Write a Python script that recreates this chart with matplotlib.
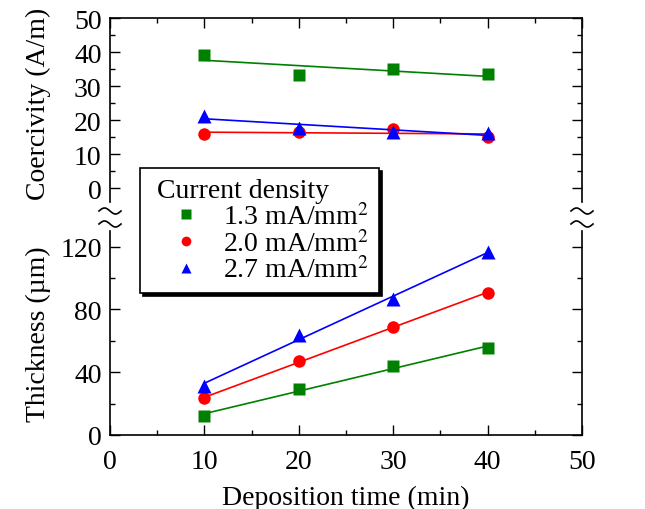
import matplotlib
matplotlib.use('Agg')
import matplotlib.pyplot as plt
import numpy as np
from matplotlib.lines import Line2D
from matplotlib.ticker import MultipleLocator

plt.rcParams['font.family'] = ['Liberation Serif', 'DejaVu Serif']
plt.rcParams['mathtext.fontset'] = 'stix'
plt.rcParams['font.size'] = 20

time = np.array([10, 20, 30, 40])
labels = ['1.3 mA/mm$^2$', '2.0 mA/mm$^2$', '2.7 mA/mm$^2$']
colors = ['green', 'red', 'blue']
markers = ['s', 'o', '^']
sizes = [8.5, 9, 10.5]

coercivity_13 = [39.2, 33.3, 34.9, 33.4]
coercivity_20 = [15.8, 16.5, 17.5, 14.9]
coercivity_27 = [21.3, 17.6, 16.6, 16.2]

thickness_13 = [12.2, 29.2, 44.0, 55.2]
thickness_20 = [23.3, 47.2, 69.0, 90.4]
thickness_27 = [31.5, 64.0, 86.5, 116.5]

coercivity = [coercivity_13, coercivity_20, coercivity_27]
thickness = [thickness_13, thickness_20, thickness_27]

W, H = 645, 510
fig = plt.figure(figsize=(6.45, 5.1), dpi=100)

x0, x1 = 110, 582
ax_top = fig.add_axes([x0 / W, (H - 203) / H, (x1 - x0) / W, (203 - 19) / H])
ax_bot = fig.add_axes([x0 / W, (H - 436) / H, (x1 - x0) / W, (436 - 232) / H])

handles = []
for c, m, s, lab, yc, yt in zip(colors, markers, sizes, labels, coercivity, thickness):
    h, = ax_top.plot(time, yc, m, color=c, ms=s, mec='none', label=lab)
    handles.append(h)
    p = np.polyfit(time, yc, 1)
    ax_top.plot(time, np.polyval(p, time), '-', color=c, lw=1.2)
    ax_bot.plot(time, yt, m, color=c, ms=s, mec='none')
    p = np.polyfit(time, yt, 1)
    ax_bot.plot(time, np.polyval(p, time), '-', color=c, lw=1.2)

ax_top.set_ylim(-4.1, 50)
ax_top.yaxis.set_major_locator(MultipleLocator(10))
ax_top.yaxis.set_minor_locator(MultipleLocator(5))
ax_bot.set_ylim(0, 130)
ax_bot.yaxis.set_major_locator(MultipleLocator(40))
ax_bot.yaxis.set_minor_locator(MultipleLocator(20))

for ax in (ax_top, ax_bot):
    ax.set_xlim(0, 50)
    ax.xaxis.set_major_locator(MultipleLocator(10))
    ax.xaxis.set_minor_locator(MultipleLocator(5))
    ax.tick_params(which='both', direction='in', top=True, right=True, width=1)
    ax.tick_params(which='major', length=7, labelsize=20, pad=6)
    ax.tick_params(which='minor', length=3.5)
    for sp in ax.spines.values():
        sp.set_linewidth(1.2)

ax_top.spines['bottom'].set_visible(False)
ax_top.tick_params(which='both', bottom=False, labelbottom=False)
ax_bot.spines['top'].set_visible(False)
ax_bot.tick_params(which='both', top=False)
ax_bot.tick_params(axis='x', pad=10)

ax_top.set_ylabel('Coercivity (A/m)', fontsize=20)
ax_bot.set_ylabel('Thickness (\u00b5m)', fontsize=20)
ax_bot.set_xlabel('Deposition time (min)', fontsize=20, labelpad=8)
ax_top.yaxis.set_label_coords(-0.125, 0.54)
ax_bot.yaxis.set_label_coords(-0.125, 0.5)

# axis break marks: two small waves on each side spine
t = np.linspace(-1, 1, 40)
for xs in (x0, x1):
    for yc in (212, 225):
        xx = (xs + 11 * t) / W
        yy = (H - (yc + 3 * np.sin(np.pi * t))) / H
        fig.add_artist(Line2D(xx, yy, color='black', lw=1.2, transform=fig.transFigure))

leg = fig.legend(handles=handles, loc='upper left', bbox_to_anchor=(140 / W, (H - 169) / H),
                 borderaxespad=0,
                 title=' Current density', title_fontsize=20, fontsize=20,
                 alignment='left', fancybox=False, edgecolor='black', framealpha=1,
                 shadow={'color': 'black', 'alpha': 1},
                 handlelength=2.6, handletextpad=0.05, labelspacing=0.0,
                 borderpad=0.35)
leg.set_zorder(10)
leg.get_frame().set_linewidth(1.2)
for h in leg.legend_handles:
    h.set_markersize(7)

fig.savefig('out.png', dpi=100)
